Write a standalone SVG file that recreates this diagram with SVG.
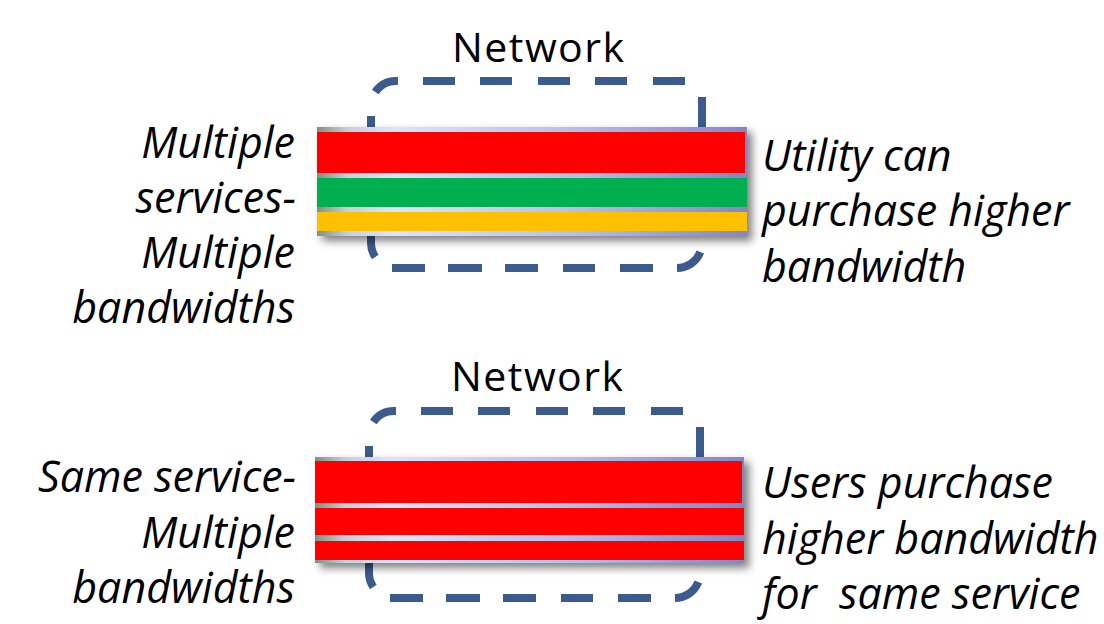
<svg xmlns="http://www.w3.org/2000/svg" width="1104" height="624" viewBox="0 0 1104 624">
<style>
.lbl{font-family:"Open Sans","Liberation Sans",sans-serif;font-style:italic;font-size:43px;fill:#000;white-space:pre}
.l{text-anchor:end}
.net{font-family:"Open Sans","Liberation Sans",sans-serif;font-size:41px;fill:#000;text-anchor:middle}
.dash{fill:none;stroke:#3b5b8c;stroke-width:8;stroke-linecap:butt}
.red{fill:#ff0000}.green{fill:#00b050}.yellow{fill:#ffc000}
</style>
<defs>
<linearGradient id="band" x1="0" y1="0" x2="1" y2="0">
<stop offset="0" stop-color="#7f917f"/>
<stop offset="0.07" stop-color="#c4d0dc"/>
<stop offset="0.18" stop-color="#dce4fb"/>
<stop offset="0.6" stop-color="#b6bee8"/>
<stop offset="1" stop-color="#8585c4"/>
</linearGradient>
<filter id="sh" x="-5%" y="-20%" width="115%" height="150%">
<feDropShadow dx="5" dy="5" stdDeviation="4" flood-color="#000" flood-opacity="0.5"/>
</filter>
<path id="netframe" class="dash" d="M375.3,92 A25,25 0 0 1 396,81 L398,81 M423,81 L455,81 M480,81 L512,81 M538,81 L570,81 M595,81 L627,81 M653,81 L685,81 M702,97 L702,132 M371,116 L371,132 M371,232 L371,243 A25,25 0 0 0 375.3,257 M392,268 L425,268 M448,268 L482,268 M505,268 L538,268 M563,268 L595,268 M620,268 L653,268 M700.3,252 A25,25 0 0 1 677,268"/>
</defs>

<g id="network-top">
<text class="net" x="538" y="62" textLength="172">Network</text>
<use href="#netframe"/>
<rect x="317" y="127" width="430" height="109" fill="url(#band)" filter="url(#sh)"/>
<rect class="red" x="317" y="132" width="428" height="41"/>
<rect class="green" x="317" y="178" width="430" height="29"/>
<rect class="yellow" x="317" y="212" width="430" height="19"/>
</g>

<g id="label-top-left">
<text class="lbl l" x="295" y="158">Multiple</text>
<text class="lbl l" x="296" y="213">services-</text>
<text class="lbl l" x="295" y="268">Multiple</text>
<text class="lbl l" x="295" y="323">bandwidths</text>
</g>

<g id="label-top-right">
<text class="lbl" x="762" y="171">Utility can</text>
<text class="lbl" x="762" y="226">purchase higher</text>
<text class="lbl" x="762" y="282">bandwidth</text>
</g>

<g id="network-bottom">
<text class="net" x="537" y="391" textLength="172">Network</text>
<use href="#netframe" transform="translate(-2,330)"/>
<rect x="315" y="457" width="429" height="106" fill="url(#band)" filter="url(#sh)"/>
<rect class="red" x="315" y="461" width="427" height="42"/>
<rect class="red" x="315" y="508" width="429" height="27"/>
<rect class="red" x="315" y="541" width="429" height="19"/>
</g>

<g id="label-bottom-left">
<text class="lbl l" x="296" y="492">Same service-</text>
<text class="lbl l" x="295" y="548">Multiple</text>
<text class="lbl l" x="295" y="603">bandwidths</text>
</g>

<g id="label-bottom-right">
<text class="lbl" x="762" y="498">Users purchase</text>
<text class="lbl" x="762" y="554">higher bandwidth</text>
<text class="lbl" x="762" y="609">for  same service</text>
</g>

<g id="connectors"></g>
</svg>
